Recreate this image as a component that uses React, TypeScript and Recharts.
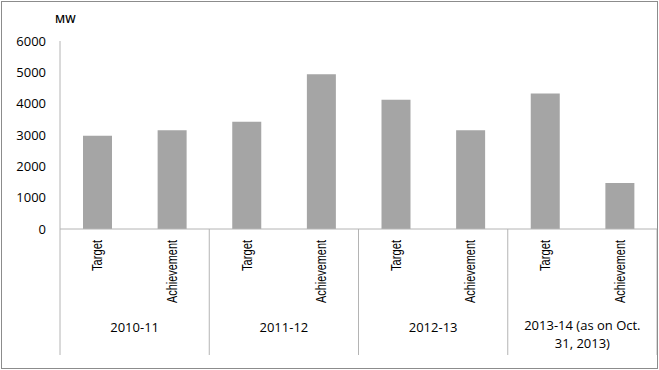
import { BarChart, Bar, XAxis, YAxis } from 'recharts';

const yearLabels = [['2010-11'], ['2011-12'], ['2012-13'], ['2013-14 (as on Oct.', '31, 2013)']];
const kinds = ['Target', 'Achievement'];
const targetMW = [2980, 3420, 4125, 4325];
const achievementMW = [3150, 4935, 3150, 1465];
const yTicks = [0, 1000, 2000, 3000, 4000, 5000, 6000];

const data = yearLabels.flatMap((lines, i) => [
  { kind: kinds[0], group: i, value: targetMW[i] },
  { kind: kinds[1], group: i, value: achievementMW[i] },
]);

const lineColor = '#b4b4b4';
const sans = '"Open Sans", sans-serif';
// squeeze rotated labels to look like a narrow face (no narrow font available)
const narrowLen: Record<string, number> = { Target: 31, Achievement: 63 };

function TwoLevelTick(props: any) {
  const { x, y, index, width, visibleTicksCount } = props;
  const band = width / visibleTicksCount;
  const row = data[index];
  const sepH = 126;
  const lines = yearLabels[row.group];
  return (
    <g>
      <text
        transform={`translate(${x},${y + 11}) rotate(-90)`}
        textAnchor="end"
        dominantBaseline="central"
        fontFamily='"Liberation Sans", Arial, sans-serif'
        fontSize={14}
        textLength={narrowLen[row.kind]}
        lengthAdjust="spacingAndGlyphs"
        fill="#000"
      >
        {row.kind}
      </text>
      {index % 2 === 0 && (
        <>
          <line x1={x - band / 2} y1={y} x2={x - band / 2} y2={y + sepH} stroke={lineColor} />
          <text x={x + band / 2} y={y + (lines.length > 1 ? 101 : 103)} textAnchor="middle" fontFamily={sans} fontSize={13} fill="#000">
            {lines.map((t, k) => (
              <tspan key={k} x={x + band / 2} dy={k === 0 ? 0 : 18}>{t}</tspan>
            ))}
          </text>
        </>
      )}
      {index === visibleTicksCount - 1 && (
        <line x1={x + band / 2} y1={y} x2={x + band / 2} y2={y + sepH} stroke={lineColor} />
      )}
    </g>
  );
}

export default function App() {
  return (
    <div style={{ position: 'fixed', left: 0, top: 0, width: 659, height: 370, background: '#fff' }}>
      <BarChart width={659} height={370} data={data} margin={{ top: 41, right: 2, bottom: 15, left: 10 }}>
        <XAxis
          dataKey="kind"
          interval={0}
          height={126}
          tickLine={false}
          tickSize={0}
          tickMargin={0}
          axisLine={{ stroke: lineColor }}
          tick={<TwoLevelTick />}
          allowDuplicatedCategory
        />
        <YAxis
          width={50}
          domain={[0, 6000]}
          ticks={yTicks}
          tickLine={false}
          tickSize={0}
          tickMargin={14}
          axisLine={{ stroke: lineColor }}
          tick={{ fill: '#000', fontSize: 13, fontFamily: sans }}
          label={{
            content: (p: any) => (
              <text x={p.viewBox.x + p.viewBox.width - 5} y={p.viewBox.y - 18} fontFamily={sans} fontSize={11} fontWeight={600} fill="#000">
                MW
              </text>
            ),
          }}
        />
        <Bar dataKey="value" fill="#a5a5a5" barSize={29} isAnimationActive={false} />
      </BarChart>
      <div style={{ position: 'absolute', left: 1, top: 1, width: 657, height: 368, boxSizing: 'border-box', border: '1px solid #8c8c8c', pointerEvents: 'none' }} />
    </div>
  );
}
